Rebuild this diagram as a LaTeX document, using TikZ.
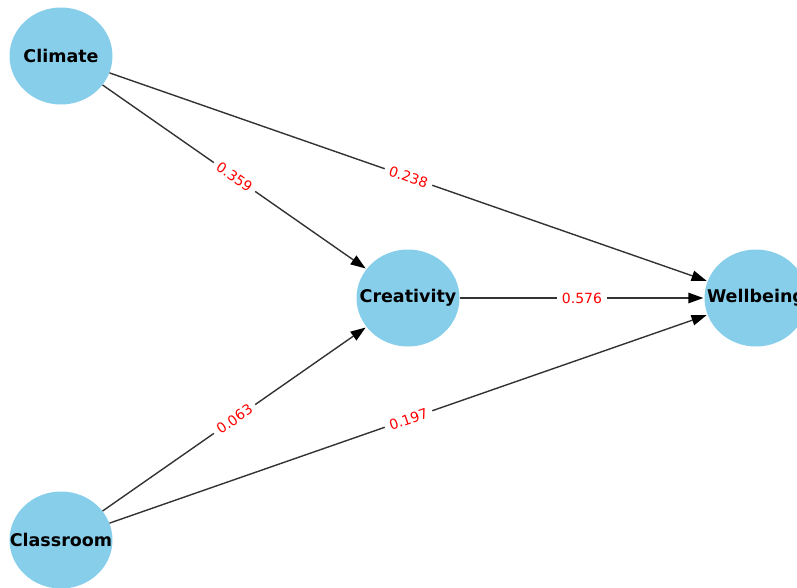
\documentclass[tikz,border=0pt]{standalone}
\usepackage{fontspec}
\setmainfont{DejaVu Sans}
\usetikzlibrary{shapes.geometric,arrows.meta}
\definecolor{skyblue}{HTML}{87CEEB}
\definecolor{edgegray}{HTML}{333333}
\tikzset{
  varnode/.style={ellipse, fill=skyblue, minimum width=103pt, minimum height=97pt, inner sep=0pt},
  vartext/.style={font=\fontsize{17.5}{19}\selectfont\bfseries, text=black, inner sep=0pt},
  pathedge/.style={draw=edgegray, line width=1.4pt, -{Triangle[length=15pt,width=10.5pt,color=black]}, shorten >=1pt},
  coef/.style={sloped, fill=white, inner xsep=5pt, inner ysep=2pt, text=red, font=\fontsize{14}{16}\selectfont}
}
\begin{document}
\begin{tikzpicture}[x=1pt,y=-1pt]
\useasboundingbox (0,0) rectangle (797,587);
\clip (0,0) rectangle (797,587);
\node[varnode, label={[vartext]center:Climate}] (cli) at (61,56) {};
\node[varnode, label={[vartext]center:Creativity}] (cre) at (408,298) {};
\node[varnode, label={[vartext]center:Wellbeing}] (wel) at (756,298) {};
\node[varnode, label={[vartext]center:Classroom}] (cla) at (61,540) {};
\draw[pathedge] (cli) -- (cre);
\draw[pathedge] (cli) -- (wel);
\draw[pathedge] (cre) -- (wel);
\draw[pathedge] (cla) -- (cre);
\draw[pathedge] (cla) -- (wel);
\path (cli.center) -- node[coef] {0.359} (cre.center);
\path (cli.center) -- node[coef] {0.238} (wel.center);
\path (cre.center) -- node[coef] {0.576} (wel.center);
\path (cla.center) -- node[coef] {0.063} (cre.center);
\path (cla.center) -- node[coef] {0.197} (wel.center);
\end{tikzpicture}
\end{document}
